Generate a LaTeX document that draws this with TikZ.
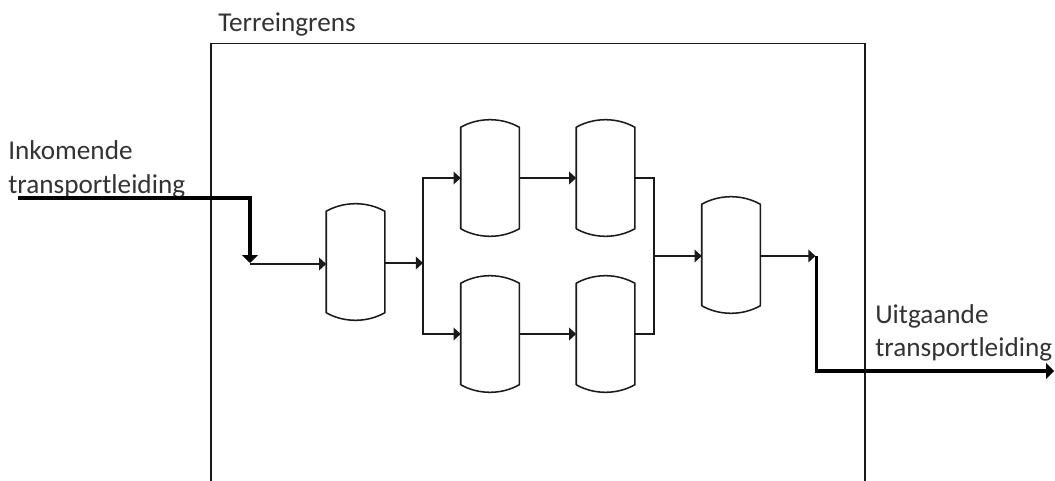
\documentclass[tikz,border=0pt]{standalone}
\usepackage{fontspec}
\setmainfont{Carlito}
\usetikzlibrary{arrows.meta,calc}
\definecolor{ink}{HTML}{1A1A1A}
\definecolor{labelink}{HTML}{333333}
\tikzset{
  px/.style={x=0.75pt,y=-0.75pt},
  wire/.style={draw=ink,line width=1.15pt},
  flow/.style={wire,-{Triangle[length=5.4pt,width=9.5pt]}},
  joinline/.style={wire},
  mainflow/.style={draw=black,line width=2.5pt,-{Triangle[length=6pt,width=12pt]}},
  vesselbody/.style={draw=none,minimum width=43.9pt,minimum height=76.2pt,inner sep=0pt,outer sep=0pt},
  lbl/.style={anchor=base west,inner sep=0pt,text=labelink,font=\fontsize{20.4pt}{24pt}\selectfont},
}
\newcommand{\vesselat}[3]{%
  \node[vesselbody] (#1) at (#2,#3) {};
  \draw[wire,line join=round] (#1.south west) -- (#1.north west)
    .. controls +(18,-10) and +(-18,-10) .. (#1.north east)
    -- (#1.south east)
    .. controls +(-18,10) and +(18,10) .. (#1.south west);
}
\begin{document}
\begin{tikzpicture}[px]
\useasboundingbox (0,0) rectangle (1055,481);
\coordinate (fa) at (211,481);
\coordinate (fb) at (211,43.5);
\coordinate (fc) at (865,43.5);
\coordinate (fd) at (865,481);
\draw[wire] (fa) -- (fb) -- (fc) -- (fd);
\node[lbl] (terrein) at (218,32) {Terreingrens};
\node[lbl] (ink) at (8,160) {Inkomende};
\node[lbl] (inkt) at (8,193) {transportleiding};
\node[lbl] (uit) at (875,323) {Uitgaande};
\node[lbl] (uitt) at (875,356) {transportleiding};

\vesselat{v1}{355.5}{262}
\vesselat{v2}{490}{178}
\vesselat{v3}{605.5}{178}
\vesselat{v4}{490}{334}
\vesselat{v5}{605.5}{334}
\vesselat{v6}{731}{255}

\coordinate (instart) at (18,198);
\coordinate (inbend) at (250,198);
\coordinate (indrop) at (250,263);
\coordinate (infeed) at (250,264);
\coordinate (split) at (423,263);
\coordinate (join) at (654,256);
\coordinate (outdrop) at (815.5,256);
\coordinate (outbend) at (816.5,371);
\coordinate (outend) at (1054,371);

\draw[mainflow] (instart) -- (inbend) -- (indrop);
\draw[flow] (infeed) -- (infeed -| v1.west);
\draw[flow] (v1.east |- split) -- (split);
\draw[flow] (split) |- (v2.west);
\draw[flow] (split) |- (v4.west);
\draw[flow] (v2.east) -- (v3.west);
\draw[flow] (v4.east) -- (v5.west);
\draw[joinline] (v3.east) -| (join);
\draw[joinline] (v5.east) -| (join);
\draw[flow] (join) -- (join -| v6.west);
\draw[flow] (v6.east |- outdrop) -- (outdrop);
\draw[mainflow] (outdrop -| outbend) -- (outbend) -- (outend);
\end{tikzpicture}
\end{document}
